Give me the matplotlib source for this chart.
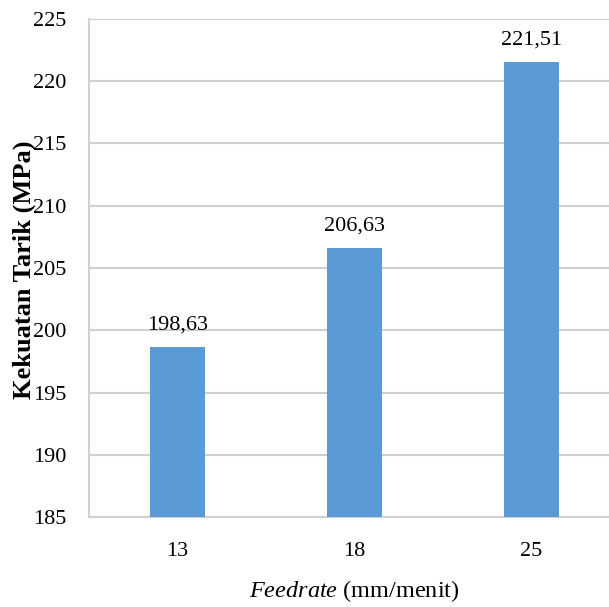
import matplotlib

matplotlib.use("Agg")
import matplotlib.pyplot as plt

feedrate = ["13", "18", "25"]
kekuatan = [198.63, 206.63, 221.51]
value_labels = ["198,63", "206,63", "221,51"]
y_ticks = [185, 190, 195, 200, 205, 210, 215, 220, 225]

plt.rcParams["font.family"] = ["Liberation Serif", "DejaVu Serif"]
plt.rcParams["mathtext.fontset"] = "custom"
plt.rcParams["mathtext.rm"] = "Liberation Serif"
plt.rcParams["mathtext.it"] = "Liberation Serif:italic"

fig = plt.figure(figsize=(6.09, 6.07), dpi=100)
ax = fig.add_axes([89 / 609, 1 - 517 / 607, 531 / 609, 498 / 607])

x = range(len(feedrate))
ax.bar(x, [v - 185 for v in kekuatan], bottom=185, width=0.31, color="#5b9bd5", zorder=3)
for xi, v, lab in zip(x, kekuatan, value_labels):
    ax.text(xi, v + 1.0, lab, ha="center", va="bottom", fontsize=16)

ax.set_ylim(185, 225)
ax.set_xlim(-0.5, 2.5)
ax.set_yticks(y_ticks)
ax.set_xticks(list(x))
ax.set_xticklabels(feedrate)
ax.tick_params(length=0, labelsize=16)
ax.tick_params(axis="y", pad=16)
ax.tick_params(axis="x", pad=18)
ax.yaxis.grid(True, color="#d0d0d0", linewidth=1.5, zorder=0)
for side in ("top", "right"):
    ax.spines[side].set_visible(False)
for side in ("left", "bottom"):
    ax.spines[side].set_color("#d0d0d0")
    ax.spines[side].set_linewidth(1.5)

fig.text(24 / 609, 1 - 270 / 607, "Kekuatan Tarik (MPa)", rotation=90,
         ha="center", va="center", fontsize=19, fontweight="bold")
ax.set_xlabel(r"$\it{Feedrate}$ (mm/menit)", fontsize=17.5, labelpad=12)

fig.savefig("out.png", dpi=100)
